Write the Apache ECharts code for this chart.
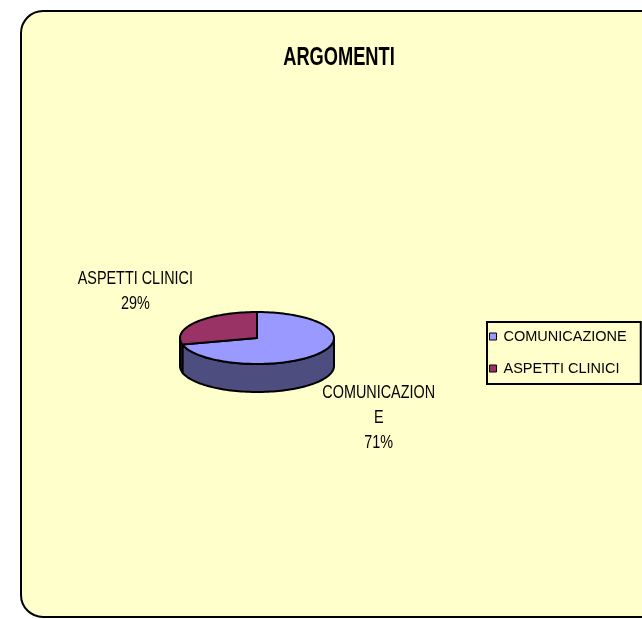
<!DOCTYPE html>
<html>
<head>
<meta charset="utf-8">
<script src="https://cdn.jsdelivr.net/npm/echarts@6/dist/echarts.min.js"></script>
<style>
  html, body { margin: 0; padding: 0; background: #fff; }
  #chart { width: 642px; height: 619px; }
</style>
</head>
<body>
<div id="chart"></div>
<script>
const title = 'ARGOMENTI'
const categories = ['COMUNICAZIONE', 'ASPETTI CLINICI']
const values = [71, 29]
const colors = ['#9999FF', '#993366']
const sideColors = ['#4D4D80', '#4D1A33']

const font = '"Liberation Sans", Arial, sans-serif'
const pie = { cx: 257, cy: 338, rx: 77, ry: 26, depth: 28 }

const total = values.reduce((a, b) => a + b, 0)
// screen angles in degrees, -90 = top, clockwise
const starts = []
let acc = -90
values.forEach(v => {
  starts.push(acc)
  acc += (v / total) * 360
})

function pt(deg, dy = 0) {
  const r = (deg * Math.PI) / 180
  return [pie.cx + pie.rx * Math.cos(r), pie.cy + pie.ry * Math.sin(r) + dy]
}

function arc(a1, a2, dy) {
  const pts = []
  const n = Math.max(2, Math.ceil(Math.abs(a2 - a1) / 2))
  for (let i = 0; i <= n; i++) pts.push(pt(a1 + ((a2 - a1) * i) / n, dy))
  return pts
}

function renderSlice(idx) {
  return function(params, api) {
    const v = api.value(0)
    const a1 = starts[idx]
    const a2 = a1 + (v / total) * 360
    const children = []
    // visible side wall: front half (0..180 deg)
    const ranges = [[a1, a2], [a1 - 360, a2 - 360]]
    ranges.forEach(([s, e]) => {
      const lo = Math.max(s, 0)
      const hi = Math.min(e, 180)
      if (hi > lo) {
        const top = arc(lo, hi, 0)
        const bottom = arc(hi, lo, pie.depth)
        children.push({
          type: 'polygon',
          shape: { points: top.concat(bottom) },
          style: { fill: sideColors[idx], stroke: '#000', lineWidth: 2 }
        })
      }
    })
    const face = [[pie.cx, pie.cy]].concat(arc(a1, a2, 0))
    children.push({
      type: 'polygon',
      shape: { points: face },
      style: { fill: colors[idx], stroke: '#000', lineWidth: 2, lineJoin: 'round' }
    })
    const mid = ((a1 + a2) / 2) * Math.PI / 180
    const sin = Math.sin(mid)
    const lx = pie.cx + 2.0 * pie.rx * Math.cos(mid)
    const ly = pie.cy + 2.4 * pie.ry * sin + (sin > 0 ? pie.depth + 14 : -8)
    children.push({
      type: 'text',
      x: lx,
      y: ly,
      scaleX: 0.8,
      style: {
        text: categories[idx] + '\n' + Math.round((v / total) * 100) + '%',
        width: 148,
        overflow: 'break',
        align: 'center',
        verticalAlign: 'middle',
        font: '18px ' + font,
        lineHeight: 25,
        fill: '#000'
      }
    })
    return { type: 'group', children }
  }
}

const chart = echarts.init(document.getElementById('chart'))
chart.setOption({
  backgroundColor: '#ffffff',
  animation: false,
  graphic: [
    {
      type: 'rect',
      z: -10,
      shape: { x: 21, y: 11, width: 680, height: 606, r: 22 },
      style: { fill: '#FFFFCC', stroke: '#000', lineWidth: 2 }
    },
    {
      type: 'text',
      x: 339,
      y: 58,
      scaleX: 0.73,
      style: {
        text: title,
        align: 'center',
        verticalAlign: 'middle',
        font: 'bold 25px ' + font,
        fill: '#000'
      }
    }
  ],
  legend: {
    orient: 'vertical',
    left: 487,
    top: 322,
    padding: [7, 14, 8, 2],
    itemGap: 17,
    backgroundColor: '#FFFFCC',
    borderColor: '#000',
    borderWidth: 2,
    borderRadius: 0,
    icon: 'rect',
    itemWidth: 7,
    itemHeight: 7,
    itemStyle: { borderColor: '#000', borderWidth: 1 },
    textStyle: { fontFamily: font, fontSize: 14.5, color: '#000', padding: [0, 0, 0, 2] },
    data: categories
  },
  series: categories.map((name, i) => ({
    type: 'custom',
    name,
    coordinateSystem: 'none',
    itemStyle: { color: colors[i] },
    renderItem: renderSlice(i),
    data: [[values[i]]]
  }))
})
</script>
</body>
</html>
